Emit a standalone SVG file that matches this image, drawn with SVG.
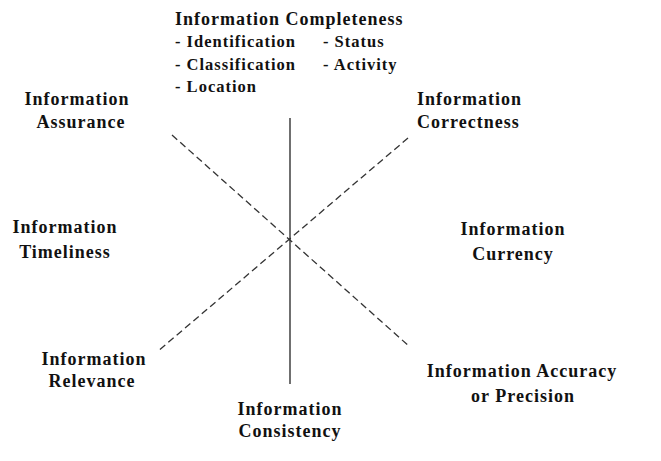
<svg xmlns="http://www.w3.org/2000/svg" width="661" height="461" viewBox="0 0 661 461">
<style>
text{font-family:"Liberation Serif","Times New Roman",serif;font-weight:bold;font-size:18px;letter-spacing:1px;fill:#111}
.c{text-anchor:middle}
.li{font-size:16.5px}
.solid{stroke:#222;stroke-width:1.3;fill:none}
.dash{stroke:#333;stroke-width:1.3;fill:none;stroke-dasharray:7 4}
</style>
<rect width="661" height="461" fill="#fff"/>
<g id="connectors">
<line class="solid" x1="290" y1="118" x2="290" y2="384"/>
<line class="dash" x1="172" y1="135" x2="410" y2="347"/>
<line class="dash" x1="408" y1="138" x2="157" y2="352"/>
</g>
<g id="completeness">
<text x="175" y="25" letter-spacing="1.3">Information Completeness</text>
<text class="li" x="175" y="47">- Identification</text>
<text class="li" x="323" y="47">- Status</text>
<text class="li" x="175" y="70">- Classification</text>
<text class="li" x="323" y="70">- Activity</text>
<text class="li" x="175" y="92">- Location</text>
</g>
<g id="assurance">
<text class="c" x="77" y="105">Information</text>
<text class="c" x="81" y="128">Assurance</text>
</g>
<g id="correctness">
<text x="417" y="105">Information</text>
<text x="417" y="128">Correctness</text>
</g>
<g id="timeliness">
<text class="c" x="65" y="233">Information</text>
<text class="c" x="65" y="258">Timeliness</text>
</g>
<g id="currency">
<text class="c" x="513" y="235">Information</text>
<text class="c" x="513" y="260">Currency</text>
</g>
<g id="relevance">
<text class="c" x="94" y="365">Information</text>
<text class="c" x="92" y="387">Relevance</text>
</g>
<g id="accuracy">
<text class="c" x="522" y="377">Information Accuracy</text>
<text class="c" x="523" y="402">or Precision</text>
</g>
<g id="consistency">
<text class="c" x="290" y="415">Information</text>
<text class="c" x="290" y="437">Consistency</text>
</g>
</svg>
